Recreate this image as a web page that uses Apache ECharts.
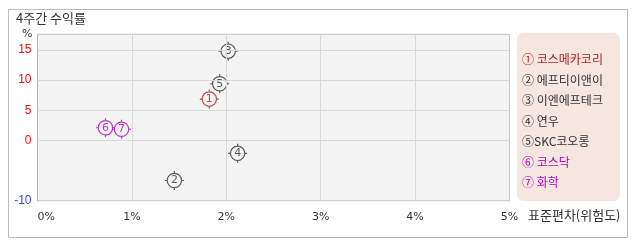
<!DOCTYPE html>
<html><head><meta charset="utf-8">
<script src="https://cdn.jsdelivr.net/npm/echarts@6/dist/echarts.min.js"></script>
<style>html,body{margin:0;padding:0;background:#fff;}#c{width:638px;height:242px;}</style>
</head><body><div id="c"></div>
<script>
const names = ['① 코스메카코리','② 에프티이앤이','③ 이엔에프테크','④ 연우','⑤SKC코오롱','⑥ 코스닥','⑦ 화학'];
const digits = ['1','2','3','4','5','6','7'];
const riskX = [1.82, 1.45, 2.02, 2.12, 1.93, 0.72, 0.89];
const returnY = [6.85, -6.65, 14.8, -2.15, 9.4, 2.1, 1.85];
const yTicks = [15, 10, 5, 0, -10];
const yGrid = [15, 10, 5, 0];
const xTicks = [0, 1, 2, 3, 4, 5];
const xGrid = [1, 2, 3, 4];
const colors = ['#b01c1c','#333333','#333333','#333333','#333333','#b000c4','#b000c4'];

const font = "'Noto Sans CJK KR', 'Noto Sans', sans-serif";
const sym = 'path://M2.2,9 A6.8,6.8 0 1,0 15.8,9 A6.8,6.8 0 1,0 2.2,9 Z M9,0 L9,2.2 M9,15.8 L9,18 M0,9 L2.2,9 M15.8,9 L18,9';

const chart = echarts.init(document.getElementById('c'), null, {renderer:'canvas'});
const series = names.map((n, i) => ({
  type: 'scatter', name: n, data: [[riskX[i], returnY[i]]],
  symbol: sym, symbolSize: 19,
  itemStyle: {color: 'none', borderColor: colors[i], borderWidth: 1.2},
  label: {show: true, position: 'inside', formatter: digits[i], color: colors[i], fontSize: 11, fontFamily: 'DejaVu Sans'},
  emphasis: {disabled: true}, silent: true, z: 3
}));
series.push({
  type: 'scatter', data: [], silent: true, z: 1,
  markLine: {
    silent: true, symbol: 'none', animation: false,
    label: {show: false},
    lineStyle: {color: '#d9d9d9', width: 1, type: 'solid'},
    data: yGrid.map(v => ({yAxis: v})).concat(xGrid.map(v => ({xAxis: v})))
  }
});

chart.setOption({
  animation: false,
  backgroundColor: '#fff',
  grid: {left: 37.5, top: 34.3, right: 128.5, bottom: 41.3, containLabel: false, show: true,
         backgroundColor: '#f4f4f4', borderColor: '#c4c4c4', borderWidth: 1},
  xAxis: {
    type: 'value', min: 0, max: 5, interval: 1,
    axisLine: {show: true, lineStyle: {color: '#b0b0b0'}},
    axisTick: {show: false}, splitLine: {show: false},
    axisLabel: {formatter: v => xTicks.includes(v) ? v + '%' : '', color: '#333', fontSize: 11, fontFamily: 'DejaVu Sans', margin: 11, alignMinLabel: 'left'}
  },
  yAxis: {
    type: 'value', min: -10, max: 17.6, interval: 5,
    axisLine: {show: true, lineStyle: {color: '#b0b0b0'}},
    axisTick: {show: false}, splitLine: {show: false},
    axisLabel: {
      formatter: v => yTicks.includes(v) ? String(v) : '',
      color: v => (Number(v) < 0 ? '#3a3aff' : '#ff0000'),
      fontSize: 12, fontFamily: 'Liberation Sans', margin: 6
    }
  },
  legend: {
    orient: 'vertical', left: 512, top: 48, itemGap: 8,
    icon: 'none', itemWidth: 0, itemHeight: 13, selectedMode: false,
    textStyle: {fontSize: 12, fontFamily: font},
    data: names.map((n, i) => ({name: n, textStyle: {color: colors[i]}}))
  },
  graphic: [
    {type: 'rect', left: 6, top: 7, z: -10, shape: {width: 619, height: 228}, style: {fill: 'none', stroke: '#bdbdbd', lineWidth: 1}},
    {type: 'rect', left: 517, top: 33, z: -5, shape: {width: 103, height: 168, r: 6}, style: {fill: '#f5e7e0'}},
    {type: 'text', left: 16, top: 12, style: {text: '4주간 수익률', font: "13px " + font, fill: '#333'}},
    {type: 'text', left: 22, top: 29, style: {text: '%', font: "11px 'DejaVu Sans'", fill: '#333'}},
    {type: 'text', left: 528, top: 209, style: {text: '표준편차(위험도)', font: "13px " + font, fill: '#333'}}
  ],
  series: series
});
</script></body></html>
